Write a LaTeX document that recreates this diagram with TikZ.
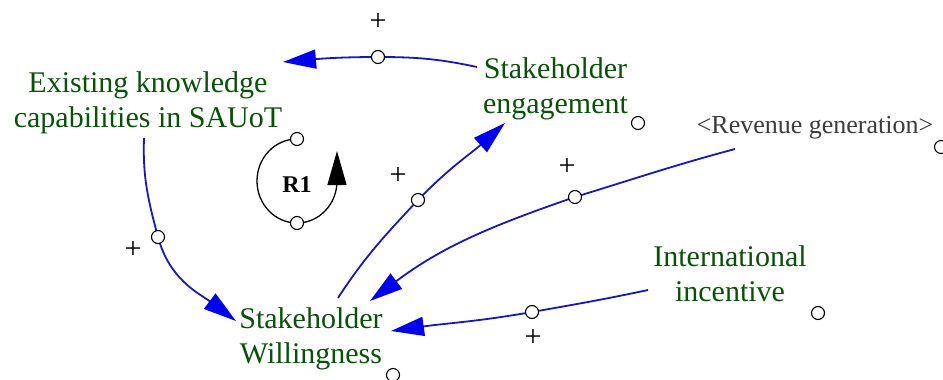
\documentclass[tikz,border=0pt]{standalone}
\usepackage{fontspec}
\setmainfont{Liberation Serif}
\newfontfamily\diagfont{Liberation Serif}
\usetikzlibrary{arrows.meta}
\definecolor{linkblue}{RGB}{25,25,175}
\definecolor{headblue}{RGB}{0,0,235}
\definecolor{vargreen}{RGB}{10,80,10}
\definecolor{shadowgray}{RGB}{60,60,60}
\tikzset{
  var/.style={text=vargreen, font=\diagfont\fontsize{30}{35}\selectfont, align=center, inner sep=0pt},
  shadowvar/.style={text=shadowgray, font=\diagfont\fontsize{26}{30}\selectfont, inner sep=0pt},
  link/.style={draw=linkblue, line width=1.8pt, -{Triangle[length=33pt,width=19pt,color=headblue]}},
  valve/.style={circle, draw=black, fill=white, line width=1.1pt, minimum size=13pt, inner sep=0pt},
  pol/.style={font=\diagfont\fontsize{30}{30}\selectfont, inner sep=0pt},
  loopline/.style={draw=black, line width=1.3pt},
  looplabel/.style={font=\diagfont\fontsize{24}{24}\selectfont\bfseries, inner sep=0pt},
}
\begin{document}
\begin{tikzpicture}[x=1pt,y=1pt]
\useasboundingbox (0,0) rectangle (943,-380);

% variables
\node[var] (ek) at (148,-102.5) {Existing knowledge\\capabilities in SAUoT};
\node[var] (se) at (555.5,-88.5) {Stakeholder\\engagement};
\node[var] (sw) at (311,-338.5) {Stakeholder\\Willingness};
\node[var] (ii) at (730,-274) {International\\incentive};
\node[shadowvar, anchor=base] (rg) at (815,-133) {<Revenue generation>};

% small circles beside variables
\node[valve] (se-o) at (638,-123) {};
\node[valve] (sw-o) at (393,-375) {};
\node[valve] (ii-o) at (818,-313) {};
\node[valve] (rg-o) at (941,-147) {};

% connector end points
\coordinate (se-out) at (477,-67);
\coordinate (ek-in) at (283,-62);
\coordinate (ek-out) at (144,-138);
\coordinate (sw-in1) at (236,-321);
\coordinate (sw-out) at (338,-298);
\coordinate (se-in) at (505,-123);
\coordinate (rg-out) at (735,-149);
\coordinate (sw-in2) at (370,-301);
\coordinate (ii-out) at (648,-290);
\coordinate (sw-in3) at (391,-331);

% mid-link circles
\coordinate (m1) at (378,-57);
\coordinate (m2) at (158,-237);
\coordinate (m3) at (418,-200);
\coordinate (m4) at (575,-197);
\coordinate (m5) at (532,-312);

% connectors
\draw[link] (se-out) to[out=168,in=0] (m1) to[out=180,in=5] (ek-in);
\draw[link] (ek-out) to[out=268,in=105] (m2) to[out=285,in=143] (sw-in1);
\draw[link] (sw-out) to[out=57,in=227] (m3) to[out=46,in=222] (se-in);
\draw[link] (rg-out) to[out=195,in=17] (m4) to[out=199,in=37] (sw-in2);
\draw[link] (ii-out) to[out=192,in=10] (m5) to[out=190,in=8] (sw-in3);

\node[valve] (v1) at (m1) {};
\node[valve] (v2) at (m2) {};
\node[valve] (v3) at (m3) {};
\node[valve] (v4) at (m4) {};
\node[valve] (v5) at (m5) {};

% polarities
\node[pol] (p1) at (378,-22) {+};
\node[pol] (p2) at (133,-250) {+};
\node[pol] (p3) at (398,-176) {+};
\node[pol] (p4) at (567,-167) {+};
\node[pol] (p5) at (533,-338) {+};

% loop R1
\draw[loopline, -{Triangle[length=34pt,width=19pt]}]
  (297,-139) arc[start angle=90, end angle=360, x radius=40, y radius=42] -- (337,-151);
\node[valve] (lt) at (297,-139) {};
\node[valve] (lb) at (297,-223) {};
\node[looplabel] (r1) at (297,-185) {R1};
\end{tikzpicture}
\end{document}
